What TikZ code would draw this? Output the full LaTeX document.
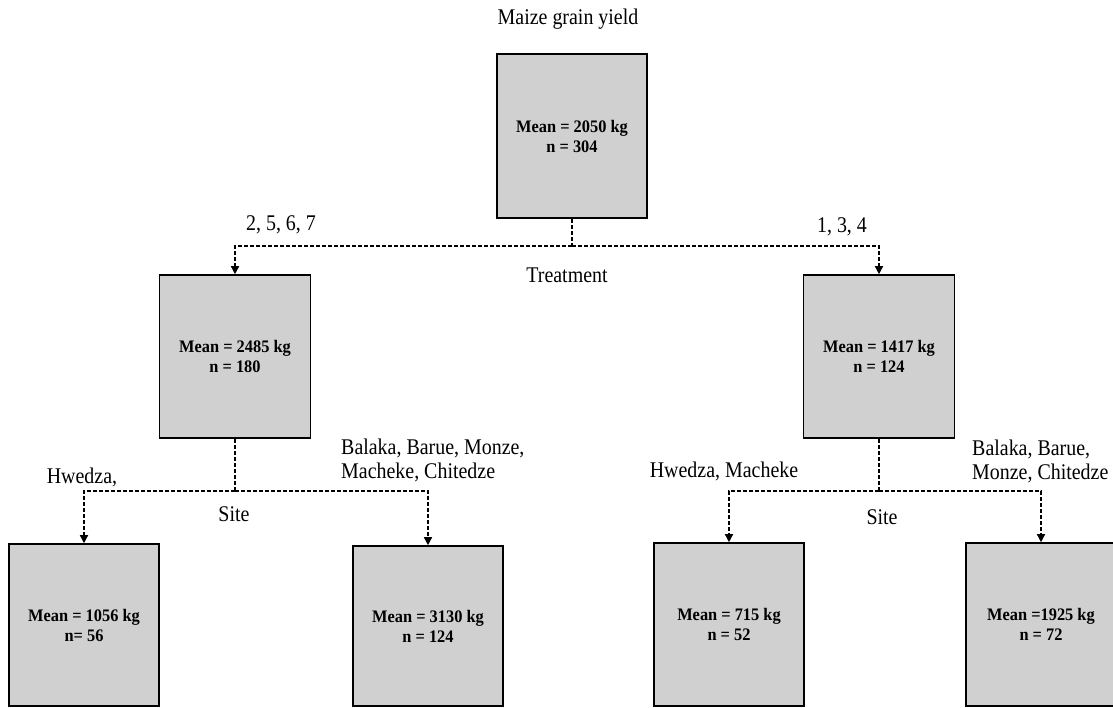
\documentclass[tikz,border=0pt]{standalone}
\usepackage{fontspec}
\setmainfont{Liberation Serif}
\newfontfamily\lblfont{Liberation Serif}[FakeStretch=0.89]
\newfontfamily\boxfont{Liberation Serif}[FakeStretch=0.93]
\usetikzlibrary{arrows.meta}
\definecolor{boxgray}{RGB}{208,208,208}
\tikzset{
  box/.style={rectangle, draw=black, fill=boxgray, line width=1.6pt, inner sep=0pt,
    minimum width=150pt, align=center, font=\boxfont\fontsize{17.6}{20}\selectfont\bfseries},
  lbl/.style={inner sep=0pt, font=\lblfont\fontsize{22.4}{24}\selectfont},
  conn/.style={line width=1.4pt, dash pattern=on 4pt off 2pt},
  arr/.style={conn, -{Triangle[length=8pt,width=8pt]}}
}
\begin{document}
\begin{tikzpicture}[x=1pt,y=-1pt]
\useasboundingbox[fill=white] (0,0) rectangle (1113,707);

% boxes
\node[box, minimum height=164pt] (b0) at (572,136) {Mean = 2050 kg\\n = 304};
\node[box, minimum width=151pt, minimum height=163pt] (b1) at (235,356.5) {Mean = 2485 kg\\n = 180};
\node[box, minimum width=151pt, minimum height=163pt] (b2) at (879,356.5) {Mean = 1417 kg\\n = 124};
\node[box, minimum height=162pt] (b3) at (84,625) {Mean = 1056 kg\\n= 56};
\node[box, minimum height=160pt] (b4) at (428,626) {Mean = 3130 kg\\n = 124};
\node[box, minimum height=163pt] (b5) at (729,624.5) {Mean = 715 kg\\n = 52};
\node[box, minimum height=163pt] (b6) at (1041,624.5) {Mean =1925 kg\\n = 72};

% labels
\node[lbl] (title) at (568,19) {Maize grain yield};
\node[lbl] (l1) at (281,225) {2, 5, 6, 7};
\node[lbl] (l2) at (842,227) {1, 3, 4};
\node[lbl] (l3) at (567,275) {Treatment};
\node[lbl] (l4) at (82,477) {Hwedza,};
\node[lbl, anchor=west, align=left] (l5) at (341,460) {Balaka, Barue, Monze,\\Macheke, Chitedze};
\node[lbl] (l6) at (234,514) {Site};
\node[lbl] (l7) at (724,471) {Hwedza, Macheke};
\node[lbl, anchor=west, align=left] (l8) at (972,461) {Balaka, Barue,\\Monze, Chitedze};
\node[lbl] (l9) at (882,517) {Site};

% junctions
\coordinate (j0) at (572,246);
\coordinate (j1) at (235,491);
\coordinate (j2) at (879,491);

% connectors
\draw[conn] (b0.south) -- (j0);
\draw[arr] (j0) -| (b1.north);
\draw[arr] (j0) -| (b2.north);
\draw[conn] (b1.south) -- (j1);
\draw[arr] (j1) -| (b3.north);
\draw[arr] (j1) -| (b4.north);
\draw[conn] (b2.south) -- (j2);
\draw[arr] (j2) -| (b5.north);
\draw[arr] (j2) -| (b6.north);
\end{tikzpicture}
\end{document}
